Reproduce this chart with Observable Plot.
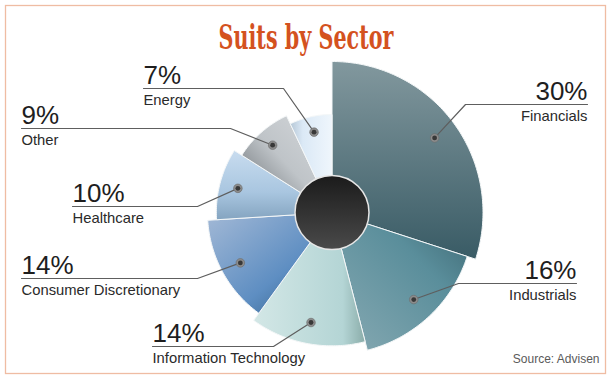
<!DOCTYPE html>
<html><head><meta charset="utf-8">
<script src="https://cdn.jsdelivr.net/npm/d3@7"></script>
<script src="https://cdn.jsdelivr.net/npm/@observablehq/plot@0.6"></script>
<style>body{margin:0;background:#fff} svg{display:block}</style>
</head><body><div id="chart"></div>
<script>
// ---- data ----
const titleText = "Suits by Sector";
const sourceText = "Source: Advisen";
const categories = ["Financials", "Industrials", "Information Technology", "Consumer Discretionary", "Healthcare", "Other", "Energy"];
const shares = [30, 16, 14, 14, 10, 9, 7];
const shareLabels = ["30%", "16%", "14%", "14%", "10%", "9%", "7%"];

// ---- layout ----
const W = 610, H = 379;
const center = {x: 331.5, y: 212};
const hubRadius = 37;
const radius = d3.scaleLinear().domain([0, categories.length - 1]).range([151, 98]);
const angle = d3.scaleLinear().domain([0, d3.sum(shares)]).range([0, 2 * Math.PI]);
const cum = Array.from(d3.cumsum(shares));
const starts = [0, ...cum.slice(0, -1)];
const polar = (a, r) => ({x: center.x + r * Math.sin(a), y: center.y - r * Math.cos(a)});

const gradients = [
  {dir: [0, 0, 0, 1], stops: [[0, "#82989e"], [1, "#395b65"]]},
  {dir: [1, 0, 0, 1], stops: [[0, "#3c6671"], [0.35, "#5a8e9b"], [1, "#88aab3"]]},
  {dir: [0, 0, 1, 0], stops: [[0, "#d3e7e6"], [0.8, "#b4d5d5"], [1, "#8aaca9"]]},
  {dir: [0, 0, 1, 1], stops: [[0, "#a3b9d6"], [0.6, "#5e8ec2"], [1, "#2b587e"]]},
  {dir: [0, 0, 0, 1], stops: [[0, "#c8dcef"], [0.6, "#a9c6e0"], [1, "#84a4c0"]]},
  {dir: [1, 0, 0, 1], stops: [[0, "#d6d9dc"], [0.5, "#bfc4c8"], [1, "#5c6267"]]},
  {dir: [1, 0, 0, 0], stops: [[0, "#eff6fc"], [0.7, "#dbe9f6"], [1, "#b6c7d6"]]}
];

const callouts = [
  {side: "right", lineY: 104, elbowX: 465, textX: 587},
  {side: "right", lineY: 283, elbowX: 458, textX: 576},
  {side: "left", lineY: 346, elbowX: 273, textX: 152},
  {side: "left", lineY: 278, elbowX: 197, textX: 21},
  {side: "left", lineY: 206, elbowX: 197, textX: 72},
  {side: "left", lineY: 128, elbowX: 230, textX: 21},
  {side: "left", lineY: 88, elbowX: 283, textX: 143}
];

// ---- derived geometry ----
const slices = categories.map((key, i) => ({key, i, a0: angle(starts[i]), a1: angle(cum[i]), r: radius(i)}));
const slicePts = slices.map(s => {
  const pts = [{key: s.key, ...center}];
  const steps = Math.max(2, Math.ceil((s.a1 - s.a0) / (Math.PI / 180)));
  for (let k = 0; k <= steps; ++k) pts.push({key: s.key, ...polar(s.a0 + (s.a1 - s.a0) * k / steps, s.r)});
  pts.push({key: s.key, ...center});
  return pts;
});
const dots = slices.map(s => ({key: s.key, ...polar((s.a0 + s.a1) / 2, 0.84 * s.r)}));
const leaderPts = [];
callouts.forEach((c, i) => {
  const d = dots[i];
  leaderPts.push({key: d.key, x: d.x, y: d.y});
  leaderPts.push({key: d.key, x: c.elbowX, y: c.lineY});
  leaderPts.push({key: d.key, x: c.textX, y: c.lineY});
});
const labelRows = callouts.map((c, i) => ({...c, pct: shareLabels[i], name: categories[i]}));
const right = labelRows.filter(d => d.side === "right");
const left = labelRows.filter(d => d.side === "left");

const font = "Liberation Sans, Arial, Helvetica, sans-serif";

const marks = [
  Plot.frame({stroke: "#efbca3", strokeWidth: 1.3, insetLeft: 5, insetTop: 5, insetRight: 5, insetBottom: 6}),
  ...slicePts.map((pts, i) => Plot.line(pts, {x: "x", y: "y", fill: `url(#g${i})`, stroke: "#f4f7f8", strokeWidth: 1, curve: "linear"})),
  Plot.dot([center], {x: "x", y: "y", r: hubRadius, fill: "url(#hub)", stroke: "#e6e6e6", strokeWidth: 1.5}),
  Plot.line(leaderPts, {x: "x", y: "y", z: "key", stroke: "#5e5e5e", strokeWidth: 1.2}),
  Plot.dot(dots, {x: "x", y: "y", r: 4.3, fill: "#8c8c8c", stroke: "#6a6a6a", strokeWidth: 0.6}),
  Plot.dot(dots, {x: "x", y: "y", r: 2.4, fill: "#383838"}),
  Plot.text(right, {x: "textX", y: d => d.lineY - 5, text: "pct", textAnchor: "end", lineAnchor: "bottom", fontSize: 26, fill: "#1e1e1e", fontFamily: font}),
  Plot.text(left, {x: "textX", y: d => d.lineY - 5, text: "pct", textAnchor: "start", lineAnchor: "bottom", fontSize: 26, fill: "#1e1e1e", fontFamily: font}),
  Plot.text(right, {x: "textX", y: d => d.lineY + 16, text: "name", textAnchor: "end", lineAnchor: "bottom", fontSize: 14.8, fill: "#2a2a2a", fontFamily: font}),
  Plot.text(left, {x: "textX", y: d => d.lineY + 16, text: "name", textAnchor: "start", lineAnchor: "bottom", fontSize: 14.8, fill: "#2a2a2a", fontFamily: font}),
  Plot.text([titleText], {x: () => 305.5, y: () => 48, text: d => d, textAnchor: "middle", lineAnchor: "bottom", fontSize: 34, fontWeight: "bold", fontFamily: "DejaVu Serif, serif", fill: "#d4521f"}),
  Plot.text([sourceText], {x: () => 599, y: () => 362, text: d => d, textAnchor: "end", lineAnchor: "bottom", fontSize: 12, fill: "#5a5a5a", fontFamily: font})
];

const plot = Plot.plot({
  width: W, height: H, margin: 0,
  x: {domain: [0, W], range: [0, W], axis: null},
  y: {domain: [0, H], range: [0, H], axis: null},
  style: {background: "#fff", overflow: "visible"},
  marks
});

const svg = d3.select(plot);
const defs = svg.insert("defs", ":first-child");
gradients.forEach((g, i) => {
  const lg = defs.append("linearGradient").attr("id", `g${i}`)
    .attr("x1", g.dir[0]).attr("y1", g.dir[1]).attr("x2", g.dir[2]).attr("y2", g.dir[3]);
  g.stops.forEach(([o, c]) => lg.append("stop").attr("offset", o).attr("stop-color", c));
});
const hub = defs.append("linearGradient").attr("id", "hub").attr("x1", 0).attr("y1", 0).attr("x2", 0).attr("y2", 1);
hub.append("stop").attr("offset", 0).attr("stop-color", "#1b1b1b");
hub.append("stop").attr("offset", 1).attr("stop-color", "#4a4a4a");

svg.selectAll("text").filter(function() { return this.textContent === titleText; })
  .attr("textLength", 175).attr("lengthAdjust", "spacingAndGlyphs");

document.getElementById("chart").appendChild(plot);
</script>
</body></html>
